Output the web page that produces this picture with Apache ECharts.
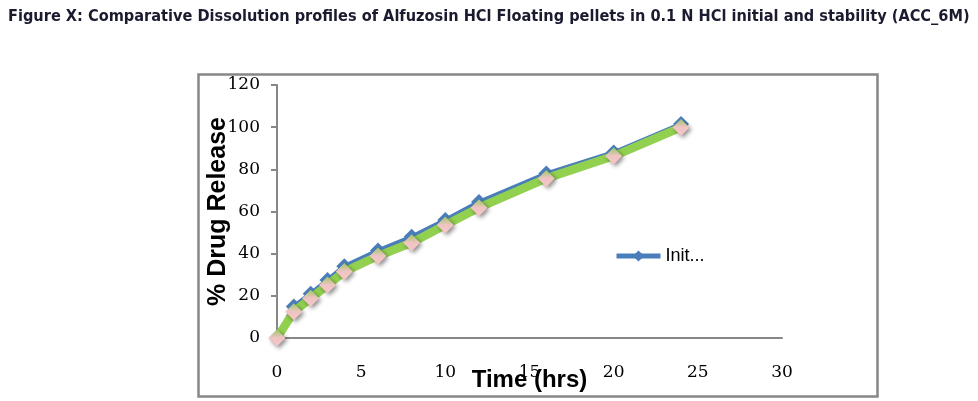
<!DOCTYPE html>
<html>
<head>
<meta charset="utf-8">
<script src="https://cdn.jsdelivr.net/npm/echarts@6/dist/echarts.min.js"></script>
<style>
html,body{margin:0;padding:0;background:#fff;}
#chart{width:978px;height:401px;}
</style>
</head>
<body>
<div id="chart"></div>
<script>
const timeHrs = [0, 1, 2, 3, 4, 6, 8, 10, 12, 16, 20, 24];
const initialRelease = [0, 15, 21, 27.5, 34, 41.5, 48, 56, 64.5, 78, 88, 101.5];
const stabilityRelease = [0, 12.5, 18.8, 25.1, 31.5, 38.9, 45.2, 53.6, 61.8, 75.7, 86.3, 99.9];
const xTicks = [0, 5, 10, 15, 20, 25, 30];
const yTicks = [0, 20, 40, 60, 80, 100, 120];

const chart = echarts.init(document.getElementById('chart'));
const pair = (xs, ys) => xs.map((x, i) => [x, ys[i]]);

chart.setOption({
  animation: false,
  title: {
    text: 'Figure X: Comparative Dissolution profiles of Alfuzosin HCl Floating pellets in 0.1 N HCl initial and stability (ACC_6M)',
    left: 3, top: 4,
    textStyle: {fontFamily: 'DejaVu Sans Condensed', fontWeight: 'bold', fontSize: 16.2, color: '#1b1b30'}
  },
  graphic: [{
    type: 'rect', left: 196, top: 72,
    shape: {width: 679, height: 322},
    style: {fill: 'none', stroke: '#878787', lineWidth: 2.5}, z: -1
  }],
  legend: {
    data: ['Initial'],
    left: 609, top: 242,
    itemWidth: 44, itemHeight: 14,
    itemGap: 4,
    formatter: n => n.slice(0, 4) + '...',
    lineStyle: {width: 5},
    textStyle: {fontFamily: 'Liberation Sans', fontSize: 18, color: '#000'}
  },
  grid: {left: 277, right: 196, top: 85, bottom: 63, outerBoundsMode: 'none', containLabel: false},
  xAxis: {
    type: 'value', min: xTicks[0], max: xTicks[xTicks.length - 1], interval: 5,
    name: 'Time (hrs)', nameLocation: 'middle', nameGap: 30, nameMoveOverlap: false,
    nameTextStyle: {fontFamily: 'Liberation Sans', fontWeight: 'bold', fontSize: 24, color: '#000'},
    axisLine: {lineStyle: {color: '#878787', width: 2}},
    axisTick: {show: false},
    splitLine: {show: false},
    axisLabel: {margin: 26, fontFamily: 'DejaVu Serif', fontSize: 17, color: '#000'}
  },
  yAxis: {
    type: 'value', min: yTicks[0], max: yTicks[yTicks.length - 1], interval: 20,
    name: '% Drug Release', nameLocation: 'middle', nameGap: 46, nameMoveOverlap: false,
    nameTextStyle: {fontFamily: 'Liberation Sans', fontWeight: 'bold', fontSize: 25, color: '#000'},
    axisLine: {show: true, lineStyle: {color: '#878787', width: 2}},
    axisTick: {show: true, length: 6, lineStyle: {color: '#878787', width: 2}},
    splitLine: {show: false},
    axisLabel: {margin: 17, fontFamily: 'DejaVu Serif', fontSize: 17, color: '#000'}
  },
  series: [
    {
      name: 'Initial', type: 'line', data: pair(timeHrs, initialRelease),
      symbol: 'diamond', symbolSize: 16,
      lineStyle: {color: '#4a7ebb', width: 4.5},
      itemStyle: {color: '#4a7ebb'},
      z: 2
    },
    {
      name: 'Stability', type: 'line', data: pair(timeHrs, stabilityRelease),
      symbol: 'diamond', symbolSize: 17,
      lineStyle: {color: '#92d050', width: 8.5},
      itemStyle: {
        color: new echarts.graphic.LinearGradient(0, 0, 0, 1, [
          {offset: 0, color: '#9cc866'},
          {offset: 0.5, color: '#f0c4c4'},
          {offset: 1, color: '#f6c6c6'}
        ]),
        shadowBlur: 4, shadowColor: 'rgba(0,0,0,0.45)', shadowOffsetX: 2, shadowOffsetY: 2
      },
      z: 3
    }
  ]
});
</script>
</body>
</html>
